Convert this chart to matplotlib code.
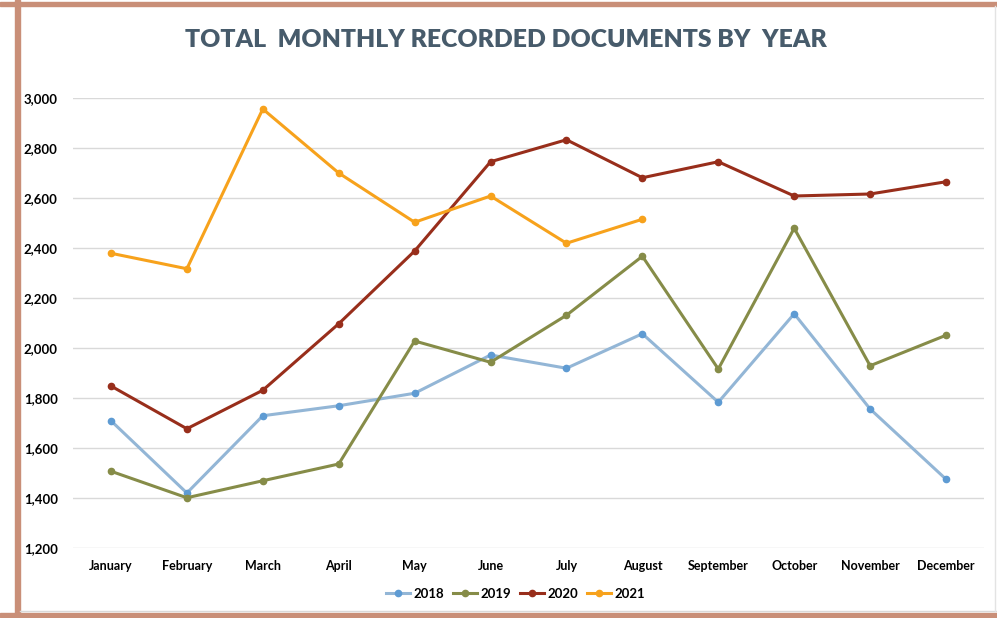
import matplotlib.pyplot as plt
from matplotlib.patches import Rectangle
from matplotlib.lines import Line2D

# data
months = ["January", "February", "March", "April", "May", "June", "July",
          "August", "September", "October", "November", "December"]
docs_2018 = [1709, 1420, 1729, 1769, 1819, 1972, 1919, 2057, 1783, 2137, 1756, 1475]
docs_2019 = [1507, 1401, 1469, 1536, 2028, 1943, 2131, 2367, 1916, 2479, 1929, 2051]
docs_2020 = [1848, 1677, 1831, 2097, 2388, 2745, 2833, 2681, 2745, 2608, 2616, 2665]
docs_2021 = [2379, 2317, 2956, 2700, 2503, 2608, 2419, 2515]
yticks = [1200, 1400, 1600, 1800, 2000, 2200, 2400, 2600, 2800, 3000]

series = [
    ("2018", docs_2018, "#93B6D6", "#5E9BD3"),
    ("2019", docs_2019, "#868C48", "#868C48"),
    ("2020", docs_2020, "#982E1B", "#982E1B"),
    ("2021", docs_2021, "#F7A21C", "#F7A21C"),
]

plt.rcParams['font.family'] = ['Lato', 'DejaVu Sans']

fig = plt.figure(figsize=(9.97, 6.18), dpi=100)

# frame around the chart
fig.patches.append(Rectangle((15 / 997, 0), 5 / 997, 1, transform=fig.transFigure,
                             color="#C98F78", zorder=0))
fig.patches.append(Rectangle((0, 1 - 6 / 618), 1, 4 / 618, transform=fig.transFigure,
                             color="#C98F78", zorder=0))
fig.patches.append(Rectangle((0, 1 / 618), 1, 4 / 618, transform=fig.transFigure,
                             color="#C98F78", zorder=0))
fig.lines.append(Line2D([20 / 997, 1], [7 / 618, 7 / 618], transform=fig.transFigure,
                        color="#D9D9D9", lw=1))
fig.lines.append(Line2D([995 / 997, 995 / 997], [7 / 618, 1 - 6 / 618],
                        transform=fig.transFigure, color="#E3E3E3", lw=1))

ax = fig.add_axes([73 / 997, 1 - 548 / 618, 911 / 997, 450 / 618])

x = list(range(len(months)))
for name, vals, line_col, mark_col in series:
    ax.plot(x[:len(vals)], vals, color=line_col, lw=2.2, marker="o", markersize=4.5,
            markerfacecolor=mark_col, markeredgecolor=mark_col, label=name,
            solid_joinstyle="round")

ax.set_xlim(-0.5, 11.5)
ax.set_ylim(1200, 3000)
ax.set_yticks(yticks)
ax.set_yticklabels([f"{v:,}" for v in yticks], fontsize=9.5, fontweight="bold")
ax.set_xticks(x)
ax.set_xticklabels(months, fontsize=9, fontweight="bold")
ax.tick_params(length=0)
ax.tick_params(axis="y", pad=11)
ax.tick_params(axis="x", pad=9)
ax.grid(axis="y", color="#D9D9D9", lw=1)
ax.set_axisbelow(True)
for s in ax.spines.values():
    s.set_visible(False)

fig.text(0.507, 1 - 40 / 618, "TOTAL  MONTHLY RECORDED DOCUMENTS BY  YEAR",
         ha="center", va="center", fontsize=17.8, fontweight="heavy", color="#475B6B")

fig.legend(loc="center", bbox_to_anchor=(0.517, 1 - 594 / 618), ncol=4, frameon=False,
           prop={"weight": "bold", "size": 9.5}, handlelength=1.8,
           handletextpad=0.25, columnspacing=0.7)

fig.savefig("out.png", dpi=100)
